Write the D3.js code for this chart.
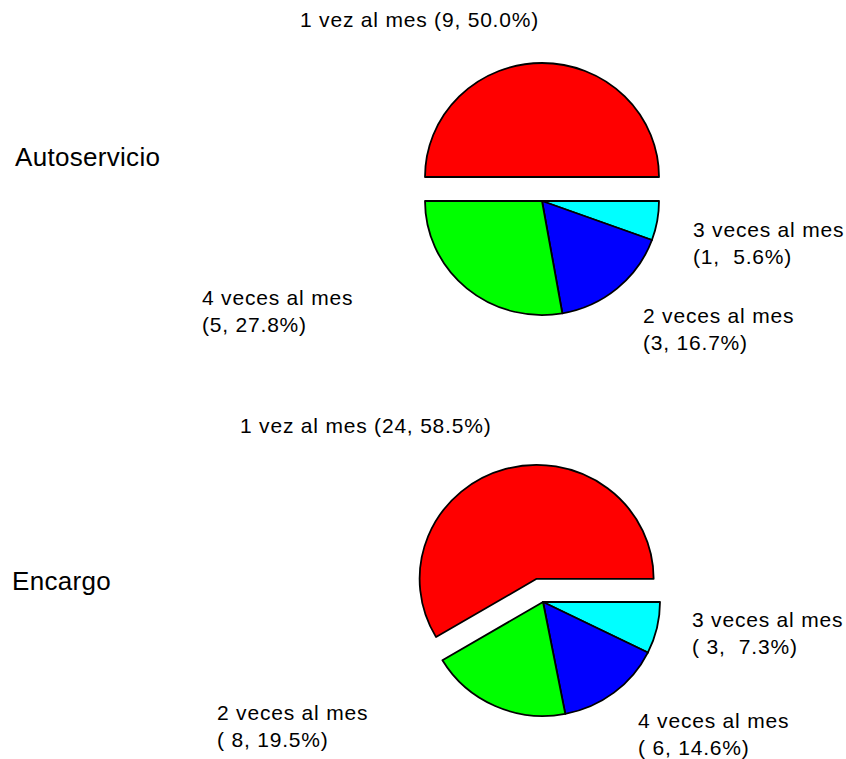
<!DOCTYPE html>
<html>
<head>
<meta charset="utf-8">
<script src="https://cdn.jsdelivr.net/npm/d3@7"></script>
<style>
  body { margin: 0; background: #fff; }
  text { font-family: "Liberation Sans", Arial, sans-serif; fill: #000; white-space: pre; }
</style>
</head>
<body>
<div id="chart"></div>
<script>
// DATA

var titles = ["Autoservicio", "Encargo"];

var autoservicioCats = ["3 veces al mes", "2 veces al mes", "4 veces al mes", "1 vez al mes"];
var autoservicioVals = [1, 3, 5, 9];

var encargoCats = ["3 veces al mes", "4 veces al mes", "2 veces al mes", "1 vez al mes"];
var encargoVals = [3, 6, 8, 24];

// colours go by slice position (clockwise from 3 o'clock)
var sliceColors = ["#00ffff", "#0000ff", "#00ff00", "#ff0000"];

// LAYOUT

var width = 846;
var height = 759;
var rx = 117, ry = 114;
var explode = 24;

var pies = [
  { title: titles[0], cats: autoservicioCats, vals: autoservicioVals,
    cx: 542, cy: 201, titleX: 15, titleY: 166,
    labels: [[693, 237], [643, 323], [202, 305], [300, 27]] },
  { title: titles[1], cats: encargoCats, vals: encargoVals,
    cx: 543, cy: 602, titleX: 12, titleY: 590,
    labels: [[692, 627], [638, 728], [217, 720], [240, 433]] }
];

var svg = d3.select("#chart")
  .append("svg")
  .attr("width", width)
  .attr("height", height);

var pie = d3.pie()
  .sort(null)
  .value(function (d) { return d; })
  .startAngle(Math.PI / 2)
  .endAngle(Math.PI / 2 + 2 * Math.PI);

var arc = d3.arc().innerRadius(0).outerRadius(rx);

function pad(s, n) {
  while (s.length < n) s = " " + s;
  return s;
}

function drawPie(p) {
  var total = d3.sum(p.vals);
  var arcs = pie(p.vals);
  var last = arcs.length - 1;
  var cw = d3.max(p.vals, function (v) { return String(v).length; });

  svg.append("text")
    .attr("x", p.titleX)
    .attr("y", p.titleY)
    .style("font-size", "26px")
    .style("letter-spacing", "0.3px")
    .text(p.title);

  var g = svg.append("g")
    .attr("transform", "translate(" + p.cx + "," + p.cy + ") scale(1," + (ry / rx) + ")");

  g.selectAll("path")
    .data(arcs)
    .enter()
    .append("path")
    .attr("d", arc)
    .attr("transform", function (d, i) {
      if (i !== last) return null;
      var mid = (d.startAngle + d.endAngle) / 2;
      return "translate(" + (Math.sin(mid) * explode) + "," + (-Math.cos(mid) * explode * rx / ry) + ")";
    })
    .style("fill", function (d, i) { return sliceColors[i]; })
    .style("stroke", "#000")
    .style("stroke-width", 1.8)
    .style("stroke-linejoin", "round");

  arcs.forEach(function (d, i) {
    var pct = pad((d.value / total * 100).toFixed(1), 4);
    var num = "(" + pad(String(d.value), cw) + ", " + pct + "%)";
    var pos = p.labels[i];
    var t = svg.append("text")
      .attr("x", pos[0])
      .attr("y", pos[1])
      .style("font-size", "21px")
      .style("letter-spacing", "0.8px");
    if (i === last) {
      t.text(p.cats[i] + " " + num);
    } else {
      t.append("tspan").attr("x", pos[0]).text(p.cats[i]);
      t.append("tspan").attr("x", pos[0]).attr("dy", 27).text(num);
    }
  });
}

pies.forEach(drawPie);
</script>
</body>
</html>
